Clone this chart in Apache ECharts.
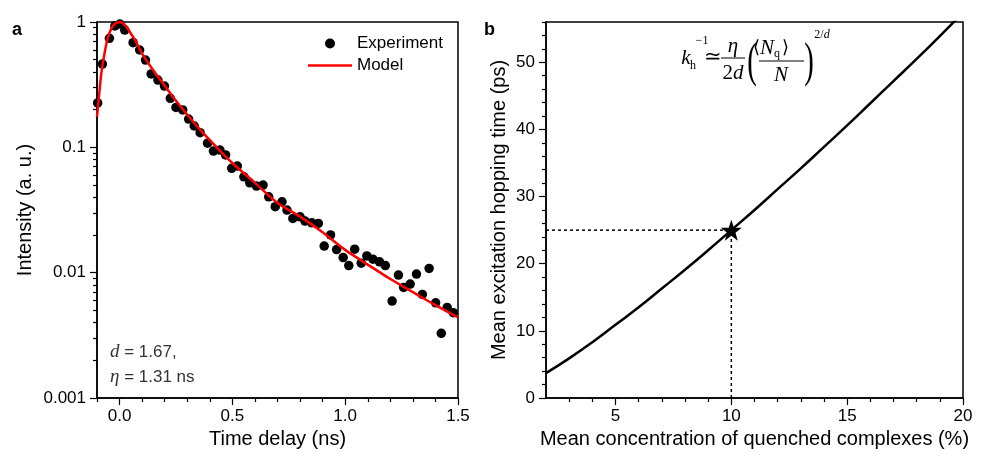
<!DOCTYPE html>
<html>
<head>
<meta charset="utf-8">
<script src="https://cdn.jsdelivr.net/npm/echarts@6/dist/echarts.min.js"></script>
<style>
  html, body { margin: 0; padding: 0; background: #fff; }
  #chart { width: 984px; height: 460px; }
</style>
</head>
<body>
<div id="chart"></div>
<script>
// panel a: time-resolved decay (log scale)
const expTime = [-0.097, -0.076, -0.045, -0.021, 0.001, 0.023, 0.060, 0.089, 0.115, 0.140,
  0.170, 0.199, 0.225, 0.250, 0.280, 0.306, 0.331, 0.357, 0.390, 0.416,
  0.445, 0.470, 0.497, 0.522, 0.551, 0.577, 0.607, 0.636, 0.661, 0.690,
  0.720, 0.742, 0.768, 0.800, 0.822, 0.852, 0.881, 0.907, 0.935, 0.962,
  0.991, 1.016, 1.042, 1.071, 1.096, 1.123, 1.152, 1.178, 1.208, 1.236,
  1.259, 1.288, 1.316, 1.342, 1.372, 1.401, 1.426, 1.452, 1.479]
const expIntensity = [0.226, 0.462, 0.741, 0.929, 0.964, 0.863, 0.684, 0.598, 0.497, 0.385,
  0.344, 0.308, 0.246, 0.208, 0.199, 0.168, 0.148, 0.131, 0.108, 0.0933,
  0.0951, 0.0869, 0.0680, 0.0709, 0.0582, 0.0521, 0.0491, 0.0500, 0.0403, 0.0336,
  0.0368, 0.0316, 0.0271, 0.0279, 0.0258, 0.0250, 0.0247, 0.0163, 0.0200, 0.0153,
  0.0132, 0.0114, 0.0154, 0.0119, 0.0136, 0.0128, 0.0122, 0.0114, 0.00593, 0.00957,
  0.00763, 0.00811, 0.00975, 0.00671, 0.0108, 0.00575, 0.00328, 0.00528, 0.00479]

const modelTime = [-0.1, -0.09, -0.08, -0.07, -0.06, -0.05, -0.04, -0.03, -0.02, -0.01, 0,
  0.01, 0.02, 0.03, 0.05, 0.07, 0.1, 0.15, 0.2, 0.25, 0.3, 0.35, 0.4, 0.45, 0.5,
  0.6, 0.7, 0.8, 0.9, 1.0, 1.1, 1.2, 1.3, 1.4, 1.5]
const modelIntensity = [0.175, 0.27, 0.40, 0.52, 0.65, 0.77, 0.86, 0.93, 0.97, 0.99, 1.0,
  0.99, 0.96, 0.92, 0.81, 0.71, 0.56, 0.41, 0.31, 0.235, 0.182, 0.143, 0.114, 0.092, 0.075,
  0.052, 0.036, 0.028, 0.021, 0.0152, 0.0116, 0.0089, 0.0070, 0.0055, 0.0044]

const aMajorX = [0, 0.5, 1.0, 1.5]
const aMinorX = [-0.1, 0.1, 0.2, 0.3, 0.4, 0.6, 0.7, 0.8, 0.9, 1.1, 1.2, 1.3, 1.4]
const aMinorY = [0.002, 0.003, 0.004, 0.005, 0.006, 0.007, 0.008, 0.009,
  0.02, 0.03, 0.04, 0.05, 0.06, 0.07, 0.08, 0.09,
  0.2, 0.3, 0.4, 0.5, 0.6, 0.7, 0.8, 0.9]

// panel b: hopping time vs quenched fraction
const concentration = [2, 3, 4, 5, 6, 7, 8, 9, 10, 11, 12, 13, 14, 15, 16, 17, 18, 19, 20]
const hoppingTime = [3.7, 5.9, 8.3, 10.9, 13.5, 16.3, 19.1, 22.0, 25.0, 28.0,
  31.1, 34.2, 37.4, 40.6, 43.9, 47.2, 50.5, 53.9, 57.4]
const markPoint = [10, 25]
const guideH = [[2, 25], [10, 25]]
const guideV = [[10, 0], [10, 25]]

const bMajorX = [5, 10, 15, 20]
const bMinorX = [3, 4, 6, 7, 8, 9, 11, 12, 13, 14, 16, 17, 18, 19]
const bMajorY = [0, 10, 20, 30, 40, 50]
const bMinorY = [2, 4, 6, 8, 12, 14, 16, 18, 22, 24, 26, 28, 32, 34, 36, 38, 42, 44, 46, 48, 52, 54, 56]

const FONT = "'Liberation Sans', Arial, sans-serif"
const SERIF = "'Liberation Serif', 'Times New Roman', serif"
const AX = { onZero: false, lineStyle: { color: '#000', width: 1.5 } }
const STAR = 'path://M50,0 L61.8,35.1 L97.6,34.5 L68.8,56.0 L79.4,90.5 L50,69.5 L20.6,90.5 L31.2,56.0 L2.4,34.5 L38.2,35.1 Z'

const chart = echarts.init(document.getElementById('chart'), null, { renderer: 'canvas' })

function minorAxis(base, ticks) {
  return Object.assign({}, base, {
    axisLine: { show: false, onZero: false },
    axisLabel: { show: false },
    splitLine: { show: false },
    axisTick: { show: true, length: 4, lineStyle: { color: '#000', width: 1.2 }, customValues: ticks }
  })
}

const axA_x = { type: 'value', gridIndex: 0, min: -0.1, max: 1.5, position: 'bottom' }
const axA_y = { type: 'log', logBase: 10, gridIndex: 0, min: 0.001, max: 1, position: 'left' }
const axB_x = { type: 'value', gridIndex: 1, min: 2, max: 20, position: 'bottom' }
const axB_y = { type: 'value', gridIndex: 1, min: 0, max: 56, position: 'left' }

function mathText(x, y, rich, text, align) {
  return {
    type: 'text', x: x, y: y,
    style: { text: text, rich: rich, align: align || 'center', verticalAlign: 'middle', fill: '#000' }
  }
}

const eqRich = {
  i: { fontFamily: SERIF, fontStyle: 'italic', fontSize: 21, fill: '#000' },
  r: { fontFamily: SERIF, fontSize: 21, fill: '#000' },
  s: { fontFamily: SERIF, fontSize: 12, fill: '#000' },
  si: { fontFamily: SERIF, fontStyle: 'italic', fontSize: 12, fill: '#000' },
  ang: { fontFamily: "'DejaVu Serif', serif", fontSize: 18, fill: '#000' }
}

const legendText = { fontFamily: FONT, fontSize: 17, color: '#000' }

chart.setOption({
  animation: false,
  backgroundColor: '#fff',
  textStyle: { fontFamily: FONT },
  grid: [
    { left: 97, top: 22, width: 361, height: 376, show: true, borderColor: '#000', borderWidth: 1.5, backgroundColor: 'transparent' },
    { left: 546, top: 22, width: 417, height: 376, show: true, borderColor: '#000', borderWidth: 1.5, backgroundColor: 'transparent' }
  ],
  legend: [
    {
      left: 325, top: 35, padding: 0, itemWidth: 44, itemHeight: 10, textStyle: legendText,
      data: [{ name: 'Experiment', icon: 'circle' }]
    },
    {
      left: 308, top: 57, padding: 0, itemWidth: 44, itemHeight: 2.5, textStyle: legendText,
      data: [{ name: 'Model', icon: 'rect' }]
    }
  ],
  xAxis: [
    Object.assign({}, axA_x, {
      name: 'Time delay (ns)', nameLocation: 'middle', nameGap: 28,
      nameTextStyle: { fontSize: 20, color: '#000', fontFamily: FONT },
      axisLine: AX, splitLine: { show: false },
      axisTick: { length: 7, lineStyle: { color: '#000', width: 1.2 }, customValues: aMajorX },
      axisLabel: { customValues: aMajorX, fontSize: 17, color: '#000', margin: 10, formatter: v => v.toFixed(1) }
    }),
    minorAxis(axA_x, aMinorX),
    Object.assign({}, axB_x, {
      name: 'Mean concentration of quenched complexes (%)', nameLocation: 'middle', nameGap: 28,
      nameTextStyle: { fontSize: 20, color: '#000', fontFamily: FONT },
      axisLine: AX, splitLine: { show: false },
      axisTick: { length: 7, lineStyle: { color: '#000', width: 1.2 }, customValues: bMajorX },
      axisLabel: { customValues: bMajorX, fontSize: 17, color: '#000', margin: 10 }
    }),
    minorAxis(axB_x, bMinorX)
  ],
  yAxis: [
    Object.assign({}, axA_y, {
      name: 'Intensity (a. u.)', nameLocation: 'middle', nameGap: 62,
      nameTextStyle: { fontSize: 20, color: '#000', fontFamily: FONT },
      axisLine: AX, splitLine: { show: false },
      axisTick: { length: 7, lineStyle: { color: '#000', width: 1.2 } },
      axisLabel: { fontSize: 17, color: '#000', margin: 11, formatter: v => String(+(+v).toPrecision(1)) }
    }),
    minorAxis(axA_y, aMinorY),
    Object.assign({}, axB_y, {
      name: 'Mean excitation hopping time (ps)', nameLocation: 'middle', nameGap: 37,
      nameTextStyle: { fontSize: 20, color: '#000', fontFamily: FONT },
      axisLine: AX, splitLine: { show: false },
      axisTick: { length: 7, lineStyle: { color: '#000', width: 1.2 }, customValues: bMajorY },
      axisLabel: { customValues: bMajorY, fontSize: 17, color: '#000', margin: 11 }
    }),
    minorAxis(axB_y, bMinorY)
  ],
  series: [
    {
      name: 'Experiment', type: 'scatter', xAxisIndex: 0, yAxisIndex: 0,
      symbol: 'circle', symbolSize: 9.5, itemStyle: { color: '#000', opacity: 1 },
      data: expTime.map((t, i) => [t, expIntensity[i]]), z: 3
    },
    {
      name: 'Model', type: 'line', xAxisIndex: 0, yAxisIndex: 0, symbol: 'none', smooth: 0.3,
      lineStyle: { color: '#ff0000', width: 2.5 }, itemStyle: { color: '#ff0000' },
      data: modelTime.map((t, i) => [t, modelIntensity[i]]), z: 4
    },
    {
      name: 'guideH', type: 'line', xAxisIndex: 2, yAxisIndex: 2, symbol: 'none',
      lineStyle: { color: '#000', width: 1.5, type: [3, 3] }, data: guideH
    },
    {
      name: 'guideV', type: 'line', xAxisIndex: 2, yAxisIndex: 2, symbol: 'none',
      lineStyle: { color: '#000', width: 1.5, type: [3, 3] }, data: guideV
    },
    {
      name: 'hopping', type: 'line', xAxisIndex: 2, yAxisIndex: 2, symbol: 'none', smooth: true,
      lineStyle: { color: '#000', width: 2.5 },
      data: concentration.map((c, i) => [c, hoppingTime[i]])
    },
    {
      name: 'mark', type: 'scatter', xAxisIndex: 2, yAxisIndex: 2,
      symbol: STAR, symbolSize: 21, itemStyle: { color: '#000', opacity: 1 }, data: [markPoint], z: 5
    }
  ],
  graphic: [
    { type: 'text', x: 12, y: 21, style: { text: 'a', font: `bold 18px ${FONT}`, fill: '#000' } },
    { type: 'text', x: 484, y: 21, style: { text: 'b', font: `bold 18px ${FONT}`, fill: '#000' } },
    mathText(110, 352, {
      i: { fontFamily: SERIF, fontStyle: 'italic', fontSize: 19, fill: '#333' },
      r: { fontFamily: FONT, fontSize: 17, fill: '#333' }
    }, '{i|d}{r| = 1.67,}', 'left'),
    mathText(110, 377, {
      i: { fontFamily: SERIF, fontStyle: 'italic', fontSize: 19, fill: '#333' },
      r: { fontFamily: FONT, fontSize: 17, fill: '#333' }
    }, '{i|η}{r| = 1.31 ns}', 'left'),
    // equation k_h^-1 ≃ η/(2d) (<N_q>/N)^(2/d)
    mathText(686, 58, eqRich, '{i|k}'),
    mathText(693, 66, eqRich, '{s|h}'),
    mathText(702, 41, eqRich, '{s|−1}'),
    mathText(713, 57, eqRich, '{r|≃}'),
    mathText(733, 46, eqRich, '{i|η}'),
    { type: 'line', shape: { x1: 721, y1: 58, x2: 745, y2: 58 }, style: { stroke: '#000', lineWidth: 1 } },
    mathText(733, 73, eqRich, '{r|2}{i|d}'),
    { type: 'text', x: 752, y: 63, scaleX: 0.6, style: { text: '(', font: `48px ${SERIF}`, align: 'center', verticalAlign: 'middle', fill: '#000' } },
    mathText(774, 48, eqRich, '{ang|⟨}{i|N}', 'right'),
    mathText(774, 54, eqRich, '{s|q}', 'left'),
    mathText(782, 48, eqRich, '{ang|⟩}', 'left'),
    { type: 'line', shape: { x1: 759, y1: 61, x2: 804, y2: 61 }, style: { stroke: '#000', lineWidth: 1 } },
    mathText(781, 75, eqRich, '{i|N}'),
    { type: 'text', x: 809, y: 63, scaleX: 0.6, style: { text: ')', font: `48px ${SERIF}`, align: 'center', verticalAlign: 'middle', fill: '#000' } },
    mathText(822, 35, eqRich, '{s|2/}{si|d}')
  ]
})
</script>
</body>
</html>
